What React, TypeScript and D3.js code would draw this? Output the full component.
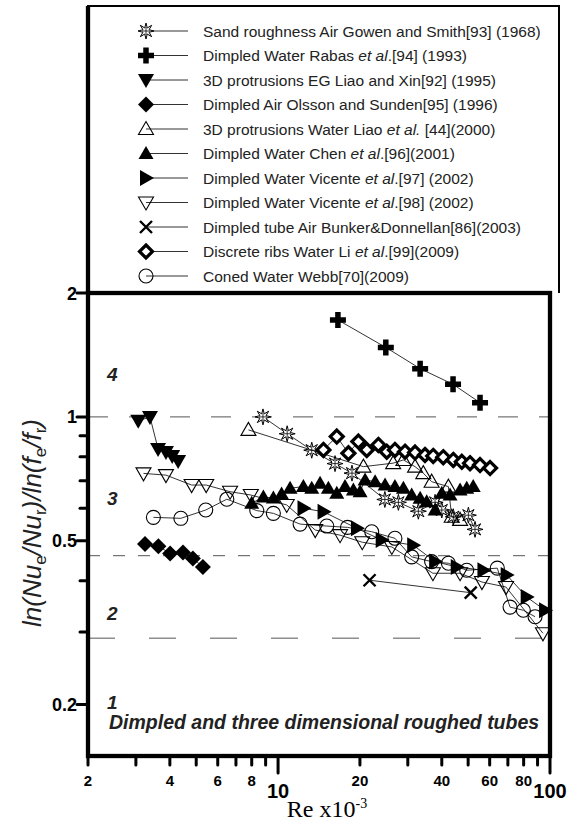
import React from 'react';
import * as d3 from 'd3';

type Pt = [number, number];

// Re x10^-3 , ln(Nue/Nur)/ln(fe/fr)
const gowen: Pt[] = [[8.8, 1.0], [10.8, 0.91], [13.3, 0.83], [16.2, 0.77], [18.7, 0.73], [24.7, 0.63], [27.7, 0.62], [32.8, 0.59], [37.8, 0.62], [40, 0.594], [44.1, 0.572], [50.1, 0.577], [53, 0.533]];
const rabas: Pt[] = [[16.6, 1.72], [24.9, 1.475], [33.3, 1.31], [44, 1.2], [55.3, 1.083]];
const liaoXin: Pt[] = [[3.06, 0.978], [3.38, 1.0], [3.62, 0.836], [3.87, 0.822], [4.08, 0.804], [4.29, 0.781]];
const olsson: Pt[] = [[3.24, 0.491], [3.63, 0.485], [4.01, 0.466], [4.47, 0.468], [4.86, 0.453], [5.29, 0.432]];
const liaoWater: Pt[] = [[7.78, 0.93], [20.6, 0.757], [26.5, 0.772], [28.9, 0.786], [31.9, 0.757], [34.2, 0.73], [36.7, 0.696], [42.3, 0.677], [43.5, 0.572], [46.7, 0.562]];
const chen: Pt[] = [[8.0, 0.617], [8.83, 0.639], [9.61, 0.635], [10.3, 0.65], [11.07, 0.671], [12.39, 0.677], [13.3, 0.671], [14.27, 0.69], [15.31, 0.671], [16.44, 0.652], [17.63, 0.677], [18.92, 0.664], [20.03, 0.658], [20.89, 0.703], [22.74, 0.696], [24.74, 0.683], [26.9, 0.677], [28.9, 0.671], [31.0, 0.646], [33.3, 0.634], [35.2, 0.622], [37.8, 0.594], [40.0, 0.652], [42.9, 0.646], [46.7, 0.664], [49.4, 0.671], [52.2, 0.677]];
const vicente97: Pt[] = [[12.4, 0.6], [14.7, 0.588], [19.5, 0.536], [24.05, 0.502], [31.4, 0.488], [37.8, 0.445], [45.4, 0.432], [56.9, 0.424], [69.3, 0.413], [82.1, 0.365], [95.9, 0.339]];
const vicente98: Pt[] = [[3.2, 0.729], [3.87, 0.722], [4.81, 0.683], [5.44, 0.683], [6.66, 0.658], [7.94, 0.646], [10.76, 0.611], [13.7, 0.531], [16.9, 0.516], [20.4, 0.496], [26.2, 0.483], [37.1, 0.417], [46.7, 0.417], [56.2, 0.397], [68.9, 0.386], [94.2, 0.298]];
const bunker: Pt[] = [[21.7, 0.401], [51.1, 0.374]];
const liRibs: Pt[] = [[14.68, 0.831], [16.44, 0.896], [18.14, 0.816], [19.74, 0.871], [21.19, 0.831], [23.38, 0.855], [25.1, 0.823], [26.9, 0.831], [29.3, 0.823], [31.9, 0.819], [34.7, 0.808], [37.2, 0.804], [40.5, 0.798], [44.1, 0.786], [47.4, 0.778], [50.8, 0.772], [55.3, 0.764], [60.2, 0.751]];
const webb: Pt[] = [[3.48, 0.57], [4.39, 0.567], [5.42, 0.594], [6.48, 0.631], [8.35, 0.592], [9.61, 0.583], [12.05, 0.549], [15.1, 0.543], [18, 0.539], [22.1, 0.526], [26.9, 0.507], [31, 0.457], [36.7, 0.445], [42.3, 0.441], [49.4, 0.424], [64, 0.429], [71.3, 0.345], [79.8, 0.339], [88.1, 0.327]];

type Part = [string, boolean];
type Series = { label: Part[], marker: string, data: Pt[] };

const series: Series[] = [
  { label: [['Sand roughness Air Gowen and Smith[93] (1968)', false]], marker: 'star', data: gowen },
  { label: [['Dimpled Water Rabas ', false], ['et al', true], ['.[94] (1993)', false]], marker: 'plus', data: rabas },
  { label: [['3D protrusions EG Liao and Xin[92] (1995)', false]], marker: 'tridown', data: liaoXin },
  { label: [['Dimpled Air Olsson and Sunden[95] (1996)', false]], marker: 'diamond', data: olsson },
  { label: [['3D protrusions Water Liao ', false], ['et al.', true], [' [44](2000)', false]], marker: 'triupOpen', data: liaoWater },
  { label: [['Dimpled Water Chen ', false], ['et al', true], ['.[96](2001)', false]], marker: 'triup', data: chen },
  { label: [['Dimpled Water Vicente ', false], ['et al', true], ['.[97] (2002)', false]], marker: 'triright', data: vicente97 },
  { label: [['Dimpled Water Vicente ', false], ['et al', true], ['.[98] (2002)', false]], marker: 'tridownOpen', data: vicente98 },
  { label: [['Dimpled tube Air Bunker&Donnellan[86](2003)', false]], marker: 'cross', data: bunker },
  { label: [['Discrete ribs Water Li ', false], ['et al', true], ['.[99](2009)', false]], marker: 'diamondOpen', data: liRibs },
  { label: [['Coned Water Webb[70](2009)', false]], marker: 'circle', data: webb },
];

const xMinor = [2, 3, 4, 5, 6, 7, 8, 9, 20, 30, 40, 50, 60, 70, 80, 90];
const xMajor = [10, 100];
const xSmallLabels = [2, 4, 6, 8, 20, 40, 60, 80];
const yMinor = [0.3, 0.4, 0.6, 0.7, 0.8, 0.9];
const yMajor = [0.2, 0.5, 1, 2];
const yLabels = ['0.2', '0.5', '1', '2'];
const refLines = [{ v: 1, dash: '20,21' }, { v: 0.46, dash: '12,13' }, { v: 0.29, dash: '27,34' }];
const regions = [{ t: '4', v: 1.22 }, { t: '3', v: 0.611 }, { t: '2', v: 0.321 }, { t: '1', v: 0.195 }];

const Marker = ({ kind, x, y }: { kind: string, x: number, y: number }) => {
  switch (kind) {
    case 'star': {
      const pts = d3.range(16).map(i => {
        const a = i * Math.PI / 8 - Math.PI / 2;
        const r = i % 2 === 0 ? 8 : 3.3;
        return [x + r * Math.cos(a), y + r * Math.sin(a)];
      });
      return <g>
        <path d={'M' + pts.join('L') + 'Z'} fill="white" stroke="black" strokeWidth={1} />
        <path d={`M${x - 4},${y}H${x + 4}M${x},${y - 4}V${y + 4}`} stroke="black" strokeWidth={0.8} />
      </g>;
    }
    case 'plus':
      return <path d={`M${x - 8},${y}H${x + 8}M${x},${y - 8}V${y + 8}`} stroke="black" strokeWidth={5.5} />;
    case 'tridown':
      return <path d={`M${x - 8},${y - 6}L${x + 8},${y - 6}L${x},${y + 8}Z`} fill="black" />;
    case 'tridownOpen':
      return <path d={`M${x - 7.5},${y - 5.5}L${x + 7.5},${y - 5.5}L${x},${y + 7.5}Z`} fill="none" stroke="black" strokeWidth={1.1} />;
    case 'triup':
      return <path d={`M${x - 7.5},${y + 5.5}L${x + 7.5},${y + 5.5}L${x},${y - 7.5}Z`} fill="black" />;
    case 'triupOpen':
      return <path d={`M${x - 7.5},${y + 5.5}L${x + 7.5},${y + 5.5}L${x},${y - 7.5}Z`} fill="none" stroke="black" strokeWidth={1.1} />;
    case 'triright':
      return <path d={`M${x - 6},${y - 8}L${x - 6},${y + 8}L${x + 8},${y}Z`} fill="black" />;
    case 'diamond':
      return <path d={`M${x},${y - 8}L${x + 8},${y}L${x},${y + 8}L${x - 8},${y}Z`} fill="black" />;
    case 'diamondOpen':
      return <path d={`M${x},${y - 6.5}L${x + 6.5},${y}L${x},${y + 6.5}L${x - 6.5},${y}Z`} fill="white" stroke="black" strokeWidth={3.2} />;
    case 'cross':
      return <path d={`M${x - 6},${y - 6}L${x + 6},${y + 6}M${x + 6},${y - 6}L${x - 6},${y + 6}`} stroke="black" strokeWidth={2.4} />;
    case 'circle':
      return <circle cx={x} cy={y} r={7} fill="none" stroke="black" strokeWidth={1.1} />;
    default:
      return null;
  }
};

const App = () => {
  const width = 576;
  const height = 824;
  const x = d3.scaleLog().domain([2, 100]).range([88, 550]);
  const y = d3.scaleLog().domain([0.15, 2]).range([756, 293]);
  const [x0, x1] = x.range();
  const [y0, y1] = y.range();
  const line = d3.line<Pt>().x(d => x(d[0])).y(d => y(d[1]));
  const font = 'Liberation Sans, Arial, sans-serif';

  const legX = 146, legY = 31, legStep = 24.5;
  const legTop = 6, legRight = 559;

  return (
    <svg width={width} height={height} style={{ position: 'absolute', left: 0, top: 0, background: 'white' }} fontFamily={font}>
      {/* legend box, sitting on the plot frame */}
      <path d={`M${x0},${y1}V${legTop}H${legRight}V${y1}`} fill="none" stroke="black" strokeWidth={2} />
      <line x1={x0} x2={x0} y1={legTop} y2={y1} stroke="black" strokeWidth={4.3} />
      {series.map((s, i) => {
        const ly = legY + i * legStep;
        return (
          <g key={'leg' + i}>
            <line x1={legX} x2={188} y1={ly} y2={ly} stroke="#333" strokeWidth={1} />
            <Marker kind={s.marker} x={legX} y={ly} />
            <text x={203} y={ly + 5.5} fontSize={15.5} fill="#222">
              {s.label.map((p, j) => <tspan key={j} fontStyle={p[1] ? 'italic' : 'normal'}>{p[0]}</tspan>)}
            </text>
          </g>
        );
      })}

      {/* reference lines */}
      {refLines.map(r => (
        <line key={r.v} x1={x0} x2={x1} y1={y(r.v)} y2={y(r.v)} stroke="#555" strokeWidth={1} strokeDasharray={r.dash} />
      ))}

      {/* series */}
      {series.map((s, i) => (
        <g key={'s' + i}>
          <path d={line(s.data) || ''} fill="none" stroke="black" strokeWidth={0.8} />
          {s.data.map((d, j) => <Marker key={j} kind={s.marker} x={x(d[0])} y={y(d[1])} />)}
        </g>
      ))}

      {/* frame */}
      <rect x={x0} y={y1} width={x1 - x0} height={y0 - y1} fill="none" stroke="black" strokeWidth={4.3} />

      {/* x ticks */}
      {xMinor.map(v => (
        <line key={'xm' + v} x1={x(v)} x2={x(v)} y1={y0} y2={y0 + 9} stroke="black" strokeWidth={3} strokeLinecap="round" />
      ))}
      {xMajor.map(v => (
        <line key={'xM' + v} x1={x(v)} x2={x(v)} y1={y0} y2={y0 + 17} stroke="black" strokeWidth={3} strokeLinecap="round" />
      ))}
      {xSmallLabels.map(v => (
        <text key={'xl' + v} x={x(v)} y={786} fontSize={15} fontWeight="bold" textAnchor="middle">{v}</text>
      ))}
      {xMajor.map(v => (
        <text key={'xL' + v} x={x(v)} y={798} fontSize={20} fontWeight="bold" textAnchor="middle">{v}</text>
      ))}
      <text x={327} y={817} fontSize={24} fontFamily="Liberation Serif, Times New Roman, serif" textAnchor="middle">
        Re x10<tspan fontSize={14} dy={-9}>-3</tspan>
      </text>

      {/* y ticks */}
      {yMinor.map(v => (
        <line key={'ym' + v} x1={x0 - 8} x2={x0} y1={y(v)} y2={y(v)} stroke="black" strokeWidth={3} strokeLinecap="round" />
      ))}
      {yMajor.map(v => (
        <line key={'yM' + v} x1={x0 - 11} x2={x0} y1={y(v)} y2={y(v)} stroke="black" strokeWidth={3} strokeLinecap="round" />
      ))}
      {yMajor.map((v, i) => (
        <text key={'yl' + v} x={x0 - 11} y={y(v) + 6.5} fontSize={18} fontWeight="bold" textAnchor="end">{yLabels[i]}</text>
      ))}
      <text transform={`translate(41, 523) rotate(-90)`} fontSize={26} fontStyle="italic" textAnchor="middle" fill="#222">
        ln(Nu<tspan fontSize={17} fontStyle="normal" dy={5}>e</tspan>
        <tspan dy={-5}>/Nu</tspan><tspan fontSize={17} fontStyle="normal" dy={5}>r</tspan>
        <tspan dy={-5}>)/ln(f</tspan><tspan fontSize={17} fontStyle="normal" dy={5}>e</tspan>
        <tspan dy={-5}>/f</tspan><tspan fontSize={17} fontStyle="normal" dy={5}>r</tspan>
        <tspan dy={-5}>)</tspan>
      </text>

      {/* annotations */}
      {regions.map(r => (
        <text key={r.t} x={107} y={y(r.v)} fontSize={19} fontWeight="bold" fontStyle="italic" fill="#222">{r.t}</text>
      ))}
      <text x={109} y={729} fontSize={19.5} fontWeight="bold" fontStyle="italic" fill="#222">Dimpled and three dimensional roughed tubes</text>
    </svg>
  );
};

export default App;
